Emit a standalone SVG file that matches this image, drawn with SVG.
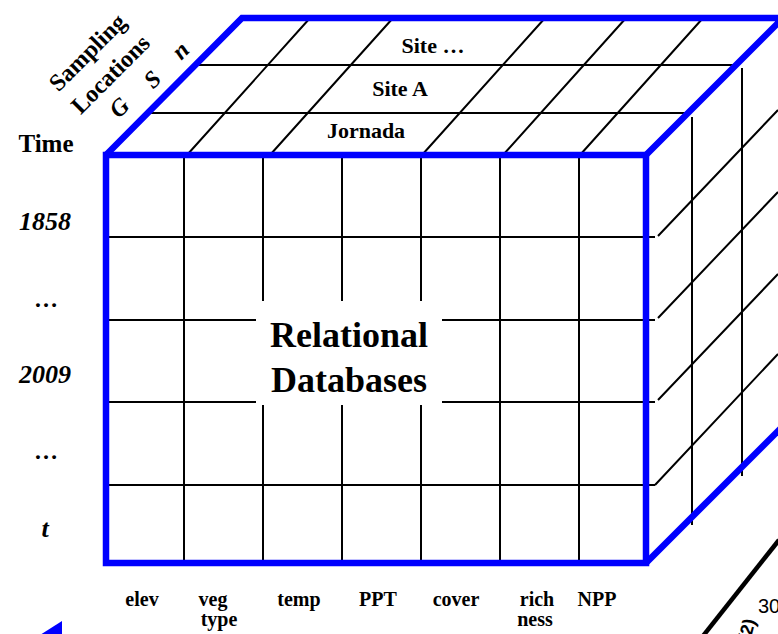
<svg xmlns="http://www.w3.org/2000/svg" width="778" height="634" viewBox="0 0 778 634">
<style>
.g{stroke:#000;stroke-width:2;fill:none}
.b{stroke:#0000ff;stroke-width:6.5;fill:none;stroke-linejoin:miter}
.t{font-family:"Liberation Serif","Times New Roman",serif;font-weight:bold;fill:#000}
.i{font-style:italic}
.m{text-anchor:middle}
</style>
<rect width="778" height="634" fill="#fff"/>
<g id="connectors">
<g id="front-grid" class="g">
<path d="M184 155V563M263 155V563M342 155V563M421 155V563M500 155V563M579 155V563"/>
<path d="M106 237H655M106 320H655M106 402H655M106 485H655"/>
</g>
<g id="top-grid" class="g">
<path d="M187 155L310 18M270 155L393 18M422 155L545 18M503 155L626 18M580 155L703 18"/>
<path d="M196 65H738M148 113H686"/>
</g>
<g id="right-grid" class="g">
<path d="M692 117V525M742 68V476"/>
<path d="M658 236L778 110M658 318L778 192M658 400L778 274M655 485L778 354"/>
</g>
<path d="M703 636L779 540" stroke="#000" stroke-width="4.5" fill="none"/>
<polygon points="62,621 40,635 62,640" fill="#0000ff"/>
</g>
<g id="cube-outline" class="b">
<rect x="106" y="155" width="540" height="408"/>
<path d="M106 155L242 18H783L646 155"/>
<path d="M646 563L783 426"/>
</g>
<g id="center-label">
<rect x="256" y="301" width="186" height="104" fill="#fff"/>
<text class="t m" x="349" y="347" font-size="36">Relational</text>
<text class="t m" x="349" y="392" font-size="36">Databases</text>
</g>
<g id="site-labels" class="t m" font-size="22">
<text x="433" y="53">Site …</text>
<text x="400" y="96">Site A</text>
<text x="366" y="138">Jornada</text>
</g>
<g id="axis-locations" class="t m" font-size="24">
<text transform="translate(93,58) rotate(-45)">Sampling</text>
<text transform="translate(116,80) rotate(-45)">Locations</text>
<text class="i" transform="translate(125,113) rotate(-45)">G</text>
<text class="i" transform="translate(158,85) rotate(-45)">S</text>
<text class="i" transform="translate(186,56) rotate(-45)">n</text>
</g>
<g id="axis-time" class="t m">
<text x="46" y="152" font-size="25">Time</text>
<text class="i" x="45" y="230" font-size="26">1858</text>
<text x="46" y="307" font-size="24">…</text>
<text class="i" x="45" y="383" font-size="26">2009</text>
<text x="46" y="459" font-size="24">…</text>
<text class="i" x="45" y="537" font-size="26">t</text>
</g>
<g id="variables" class="t m" font-size="20">
<text x="142" y="606">elev</text>
<text x="213" y="606">veg</text>
<text x="219" y="626">type</text>
<text x="299" y="606">temp</text>
<text x="378" y="606">PPT</text>
<text x="456" y="606">cover</text>
<text x="537" y="606">rich</text>
<text x="535" y="626">ness</text>
<text x="597" y="606">NPP</text>
</g>
<g id="cut-labels">
<text x="758" y="613" font-family="Liberation Sans, Arial, sans-serif" font-size="20">30</text>
<text transform="translate(750,642) rotate(-75)" font-family="Liberation Sans, Arial, sans-serif" font-weight="bold" font-size="18">(2)</text>
</g>
</svg>
